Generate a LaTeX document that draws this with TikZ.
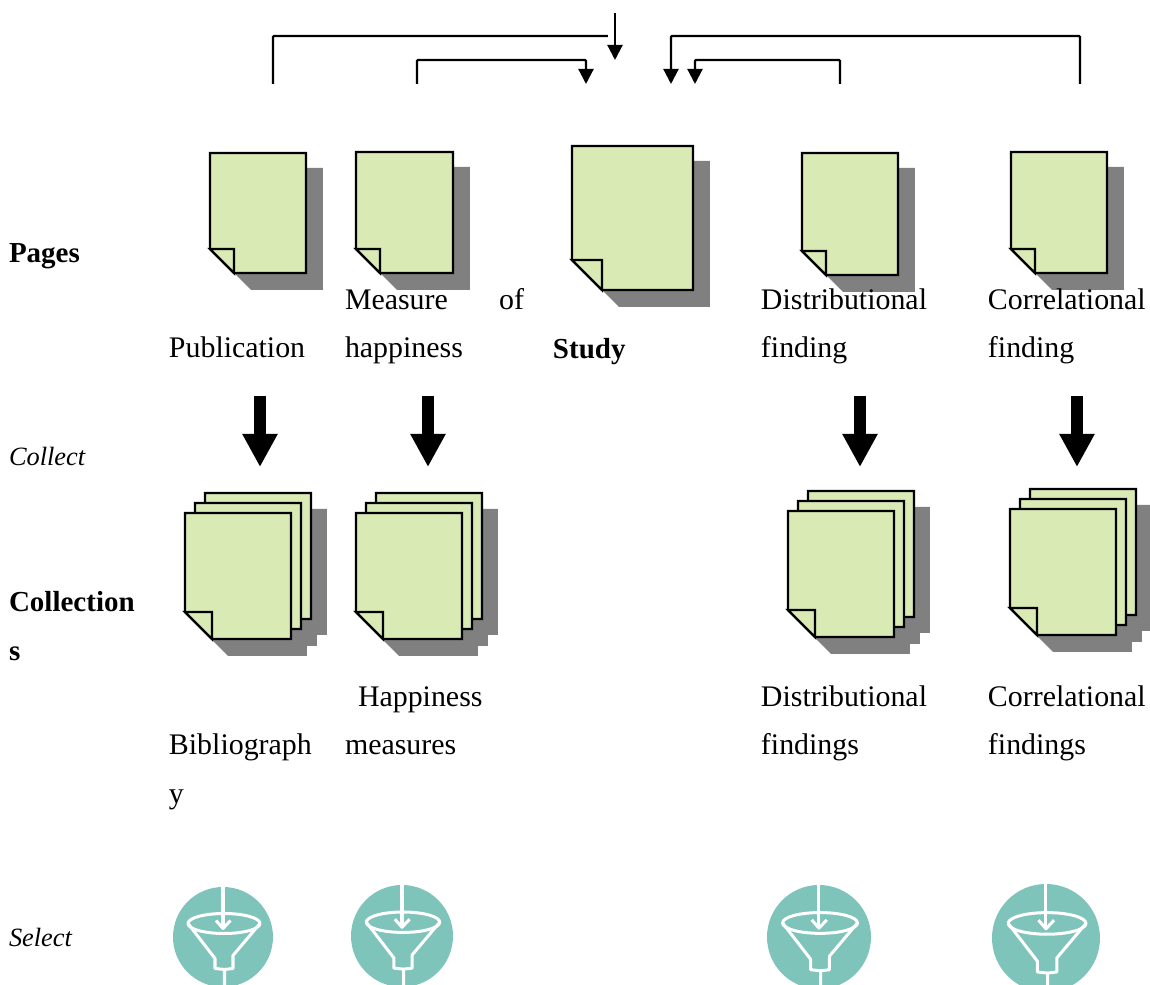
\documentclass[tikz,border=0pt]{standalone}
\usepackage{fontspec}
\setmainfont{Liberation Serif}
\usetikzlibrary{arrows.meta}
\definecolor{pagegreen}{HTML}{D9EAB5}
\definecolor{pageshadow}{HTML}{808080}
\definecolor{funnelteal}{HTML}{7FC4BB}
\newcommand{\bodyfont}{\fontsize{8.5pt}{10pt}\selectfont}
\newcommand{\italicfont}{\fontsize{7.5pt}{10pt}\selectfont\itshape}
\newcommand{\boldfont}{\fontsize{8.25pt}{10pt}\selectfont\bfseries}
\tikzset{
    pagebox/.style={draw=black,fill=pagegreen,line width=0.024cm,line join=miter},
    pageshade/.style={fill=pageshadow},
    label/.style={anchor=base west,inner sep=0pt,outer sep=0pt,font=\bodyfont},
    link/.style={line width=0.022cm,rounded corners=0.01cm},
    linkarrow/.style={link,-{Triangle[width=0.15cm,length=0.15cm]}},
    collectarrow/.style={line width=0.12cm,-{Triangle[width=0.33cm,length=0.33cm]}},
    funnelline/.style={draw=white,line width=0.03cm,line join=round}
}
% x, y, width, height, fold
\newcommand{\pagepath}[3]{(0,0) -- (#1,0) -- (#1,#2) -- (#3,#2) -- (0,{#2-#3}) -- cycle}
\newcommand{\notepage}[5]{
    \begin{scope}[shift={(#1,#2)}]
        \fill[pageshade] (#3,15) -- ({#3+17},15) -- ({#3+17},{#4+17}) -- ({#5+17},{#4+17}) -- (#5,#4) -- cycle;
        \draw[pagebox] \pagepath{#3}{#4}{#5};
        \draw[pagebox] (0,{#4-#5}) -- (#5,{#4-#5}) -- (#5,#4) -- cycle;
    \end{scope}
}
\newcommand{\pagestack}[2]{
    \begin{scope}[shift={(#1,#2)}]
        \fill[pageshade,shift={(36,-4)}] \pagepath{106}{126}{27};
        \fill[pageshade,shift={(26,7)}] \pagepath{106}{126}{27};
        \fill[pageshade,shift={(16,17)}] \pagepath{106}{126}{27};
        \begin{scope}[shift={(20,-20)}]
            \draw[pagebox] \pagepath{106}{126}{27};
        \end{scope}
        \begin{scope}[shift={(10,-10)}]
            \draw[pagebox] \pagepath{106}{126}{27};
        \end{scope}
        \draw[pagebox] \pagepath{106}{126}{27};
        \draw[pagebox] (0,99) -- (27,99) -- (27,126) -- cycle;
    \end{scope}
}
\newcommand{\funnelicon}[3]{
    \begin{scope}[shift={(#1,#2)},x=#3*0.01cm,y=-#3*0.01cm]
        \fill[funnelteal] (0,0) circle[radius=1];
        \draw[funnelline] (0.02,-0.27) ellipse[x radius=0.72,y radius=0.2];
        \draw[funnelline] (-0.7,-0.27) -- (-0.16,0.43) -- (-0.16,0.63) -- (0.03,0.65) -- (0.03,1);
        \draw[funnelline] (0.74,-0.27) -- (0.2,0.37) -- (0.2,0.63) -- (0.03,0.65);
        \draw[funnelline] (0,-1) -- (0,-0.17);
        \draw[funnelline] (-0.14,-0.33) -- (0,-0.17) -- (0.15,-0.33);
    \end{scope}
}
\begin{document}
\begin{tikzpicture}[x=0.01cm,y=-0.01cm]
    \useasboundingbox (0,0) rectangle (1150,985);
    \clip (0,0) rectangle (1150,985);

    % ends of the links
    \coordinate (top)    at (615,13);
    \coordinate (topend) at (615,60);
    \coordinate (pub)    at (273,84);
    \coordinate (pubend) at (608,36);
    \coordinate (meas)   at (417,84);
    \coordinate (measend) at (586,84);
    \coordinate (dist)   at (840,84);
    \coordinate (distend) at (695,84);
    \coordinate (corr)   at (1080,84);
    \coordinate (corrend) at (671,84);

    \draw [linkarrow] (top) -- (topend);
    \draw [link] (pub) |- (pubend);
    \draw [linkarrow] (meas) -- (417,60) -- (586,60) -- (measend);
    \draw [linkarrow] (dist) -- (840,60) -- (695,60) -- (distend);
    \draw [linkarrow] (corr) -- (1080,36) -- (671,36) -- (corrend);

    % pages
    \notepage{210}{153}{96}{120}{24}
    \notepage{356}{152}{97}{121}{24}
    \notepage{572}{146}{121}{144}{30}
    \notepage{802}{153}{96}{122}{24}
    \notepage{1011}{152}{96}{121}{24}

    % collections
    \pagestack{185}{513}
    \pagestack{356}{513}
    \pagestack{788}{511}
    \pagestack{1010}{509}

    % collect arrows
    \coordinate (a1) at (260,396); \coordinate (b1) at (260,467);
    \coordinate (a2) at (428,396); \coordinate (b2) at (428,467);
    \coordinate (a3) at (860,396); \coordinate (b3) at (860,467);
    \coordinate (a4) at (1077,396); \coordinate (b4) at (1077,467);
    \foreach \i in {1,...,4}
        \draw [collectarrow] (a\i) -- (b\i);

    % filters
    \funnelicon{223}{937}{50}
    \funnelicon{402}{936}{51}
    \funnelicon{819}{937}{52}
    \funnelicon{1046}{938}{54}

    % row names
    \node[label,font=\boldfont] (pages) at (9,263) {Pages};
    \node[label,font=\italicfont] (collect) at (9,466) {Collect};
    \node[label,font=\boldfont] (coll1) at (9,612) {Collection};
    \node[label,font=\boldfont] (coll2) at (9,661) {s};
    \node[label,font=\italicfont] (select) at (9,947) {Select};

    % page names
    \node[label] (publication) at (169,358) {Publication};
    \node[label] (measure) at (345,310) {\makebox[1.79cm][s]{Measure\hfill of}};
    \node[label] (happiness) at (345,358) {happiness};
    \node[label,font=\boldfont] (study) at (553,359) {Study};
    \node[label] (dist1) at (761,310) {Distributional};
    \node[label] (dist2) at (761,358) {finding};
    \node[label] (corr1) at (988,310) {Correlational};
    \node[label] (corr2) at (988,358) {finding};

    % collection names
    \node[label] (biblio1) at (169,755) {Bibliograph};
    \node[label] (biblio2) at (169,804) {y};
    \node[label] (hm1) at (358,707) {Happiness};
    \node[label] (hm2) at (345,755) {measures};
    \node[label] (df1) at (761,707) {Distributional};
    \node[label] (df2) at (761,755) {findings};
    \node[label] (cf1) at (988,707) {Correlational};
    \node[label] (cf2) at (988,755) {findings};
\end{tikzpicture}
\end{document}
